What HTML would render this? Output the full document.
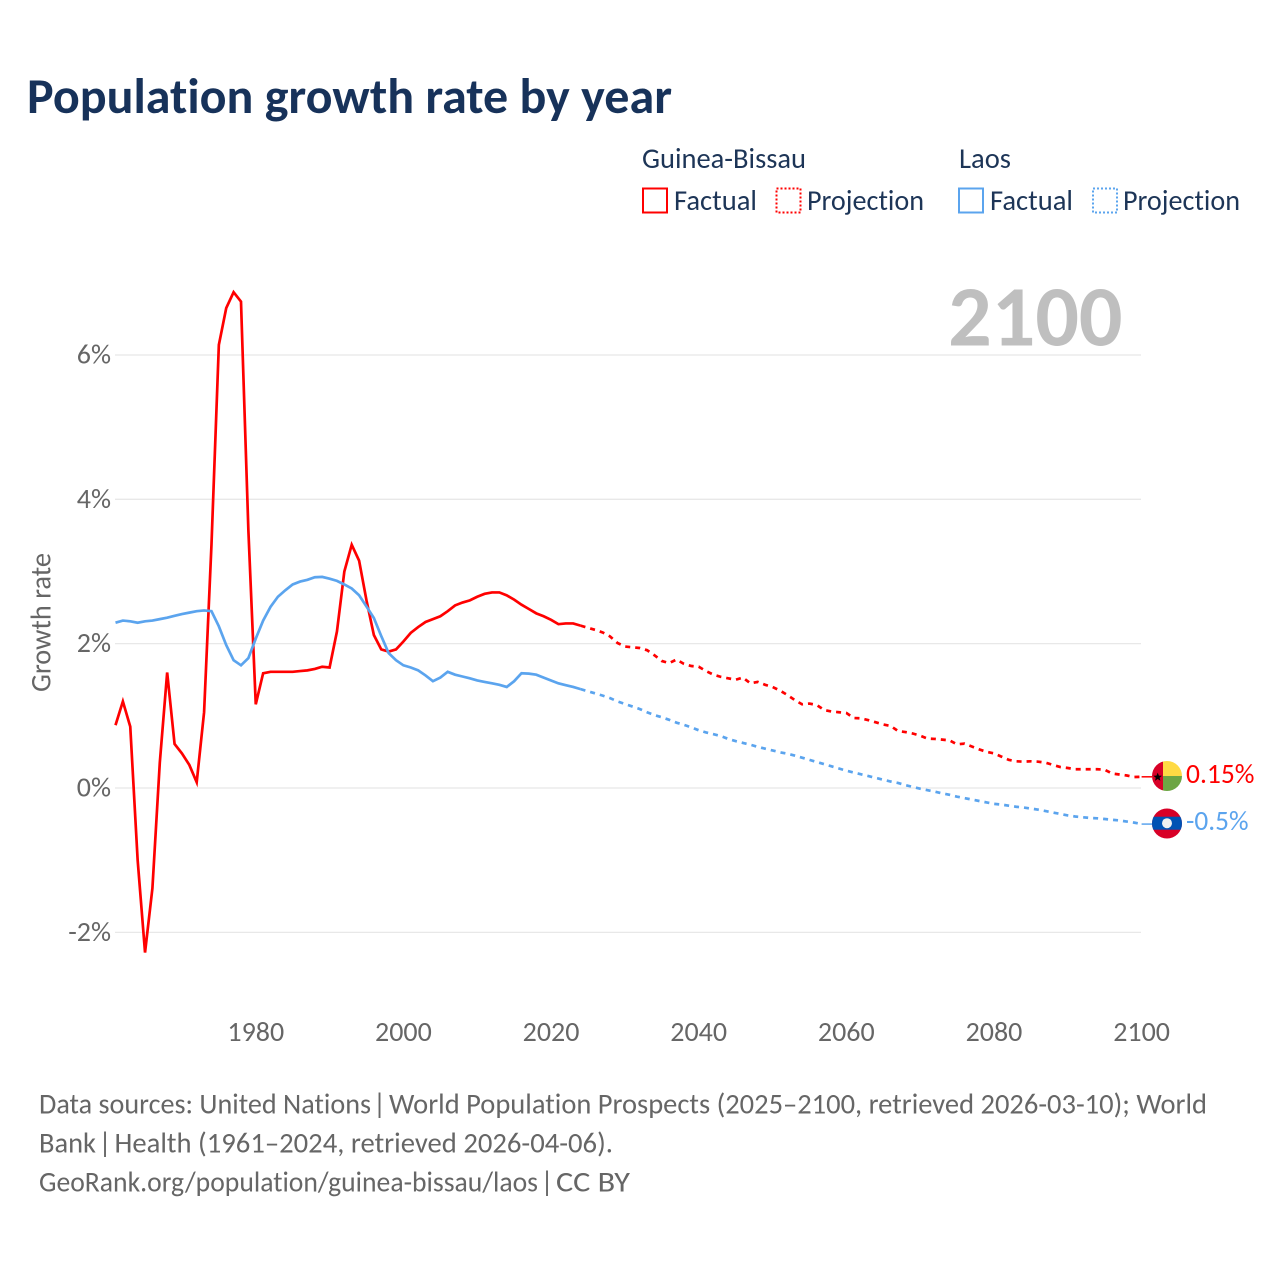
<!DOCTYPE html>
<html lang="en">
<head>
<meta charset="utf-8">
<title>Population growth rate by year</title>
<style>
html,body{margin:0;padding:0;background:#fff;}
svg{display:block;}
text{font-family:"Carlito","Lato","Liberation Sans",sans-serif;font-variant-ligatures:none;}
</style>
</head>
<body>
<svg id="chart" xmlns="http://www.w3.org/2000/svg" width="1280" height="1280" viewBox="0 0 1280 1280">
  <defs>
    <clipPath id="clip-gnb"><circle cx="1167" cy="776" r="15"/></clipPath>
    <clipPath id="clip-laos"><circle cx="1167" cy="823.5" r="15"/></clipPath>
  </defs>
  <rect width="1280" height="1280" fill="#ffffff"/>
  <text x="27" y="113" font-size="50" font-weight="700" fill="#17325a" textLength="645" lengthAdjust="spacingAndGlyphs">Population growth rate by year</text>

  <g fill="#1d3557" font-size="28.4">
    <text x="642" y="168" textLength="164" lengthAdjust="spacingAndGlyphs">Guinea-Bissau</text>
    <text x="959" y="168" textLength="52" lengthAdjust="spacingAndGlyphs">Laos</text>
    <rect x="643" y="188.5" width="24" height="24" fill="none" stroke="#ff0000" stroke-width="2"/>
    <text x="674" y="210" textLength="83" lengthAdjust="spacingAndGlyphs">Factual</text>
    <rect x="776.5" y="188.5" width="24" height="24" fill="none" stroke="#ff0000" stroke-width="2" stroke-dasharray="2 2"/>
    <text x="807" y="210" textLength="117" lengthAdjust="spacingAndGlyphs">Projection</text>
    <rect x="959" y="188.5" width="24" height="24" fill="none" stroke="#5ba4ee" stroke-width="2"/>
    <text x="990" y="210" textLength="83" lengthAdjust="spacingAndGlyphs">Factual</text>
    <rect x="1093" y="188.5" width="24" height="24" fill="none" stroke="#5ba4ee" stroke-width="2" stroke-dasharray="2 2"/>
    <text x="1123" y="210" textLength="117" lengthAdjust="spacingAndGlyphs">Projection</text>
  </g>

  <g id="grid"></g>
  <g id="y-ticks"></g>
  <g id="x-ticks"></g>
  <text transform="translate(50.5,622.5) rotate(-90)" text-anchor="middle" font-size="28.4" fill="#666666" textLength="139" lengthAdjust="spacingAndGlyphs">Growth rate</text>
  <text x="1122.5" y="345.5" text-anchor="end" font-size="86" font-weight="700" fill="#bfbfbf">2100</text>

  <g id="series"></g>

  <g clip-path="url(#clip-gnb)">
    <rect x="1152" y="761" width="11" height="30" fill="#d80027"/>
    <rect x="1163" y="761" width="19" height="15" fill="#ffda44"/>
    <rect x="1163" y="776" width="19" height="15" fill="#6da544"/>
    <polygon points="1157.7,772.6 1158.9,775.6 1162,775.7 1159.6,777.7 1160.4,780.7 1157.7,779 1155,780.7 1155.8,777.7 1153.4,775.7 1156.5,775.6" fill="#000000"/>
  </g>
  <g clip-path="url(#clip-laos)">
    <rect x="1152" y="808" width="30" height="31" fill="#d80027"/>
    <rect x="1152" y="816.7" width="30" height="13" fill="#0052b4"/>
    <circle cx="1167" cy="823.2" r="5" fill="#f0f0f0"/>
  </g>
  <text x="1186" y="783" font-size="28" fill="#ff0000" textLength="68.5" lengthAdjust="spacingAndGlyphs">0.15%</text>
  <text x="1186" y="830" font-size="28" fill="#5ba4ee" textLength="62.5" lengthAdjust="spacingAndGlyphs">-0.5%</text>

  <g font-size="28.3" fill="#666666">
    <text x="39" y="1113.5" textLength="332" lengthAdjust="spacingAndGlyphs">Data sources: United Nations</text>
    <text x="379.5" y="1113.5" text-anchor="middle">|</text>
    <text x="389" y="1113.5" textLength="818" lengthAdjust="spacingAndGlyphs">World Population Prospects (2025–2100, retrieved 2026-03-10); World</text>
    <text x="39" y="1152.5" textLength="57" lengthAdjust="spacingAndGlyphs">Bank</text>
    <text x="105" y="1152.5" text-anchor="middle">|</text>
    <text x="114.5" y="1152.5" textLength="498.5" lengthAdjust="spacingAndGlyphs">Health (1961–2024, retrieved 2026-04-06).</text>
    <text x="39" y="1191.5" textLength="499" lengthAdjust="spacingAndGlyphs">GeoRank.org/population/guinea-bissau/laos</text>
    <text x="547" y="1191.5" text-anchor="middle">|</text>
    <text x="556" y="1191.5" textLength="74" lengthAdjust="spacingAndGlyphs">CC BY</text>
  </g>
</svg>
<script>
const factualYears = [1961,1962,1963,1964,1965,1966,1967,1968,1969,1970,1971,1972,1973,1974,1975,1976,1977,1978,1979,1980,1981,1982,1983,1984,1985,1986,1987,1988,1989,1990,1991,1992,1993,1994,1995,1996,1997,1998,1999,2000,2001,2002,2003,2004,2005,2006,2007,2008,2009,2010,2011,2012,2013,2014,2015,2016,2017,2018,2019,2020,2021,2022,2023,2024];
const projectionYears = [2025,2026,2027,2028,2029,2030,2031,2032,2033,2034,2035,2036,2037,2038,2039,2040,2041,2042,2043,2044,2045,2046,2047,2048,2049,2050,2051,2052,2053,2054,2055,2056,2057,2058,2059,2060,2061,2062,2063,2064,2065,2066,2067,2068,2069,2070,2071,2072,2073,2074,2075,2076,2077,2078,2079,2080,2081,2082,2083,2084,2085,2086,2087,2088,2089,2090,2091,2092,2093,2094,2095,2096,2097,2098,2099,2100];
const guineaBissauFactual = [0.87,1.20,0.85,-1.0,-2.28,-1.39,0.35,1.60,0.61,0.48,0.32,0.08,1.05,3.37,6.14,6.65,6.87,6.74,3.57,1.16,1.59,1.61,1.61,1.61,1.61,1.62,1.63,1.65,1.68,1.67,2.17,3.0,3.37,3.15,2.6,2.12,1.92,1.89,1.92,2.03,2.15,2.23,2.30,2.34,2.38,2.45,2.53,2.57,2.60,2.65,2.69,2.71,2.71,2.67,2.61,2.54,2.48,2.42,2.38,2.33,2.27,2.28,2.28,2.25];
const guineaBissauProjection = [2.22,2.19,2.155,2.10,2.01,1.96,1.95,1.94,1.91,1.84,1.76,1.73,1.78,1.72,1.69,1.68,1.62,1.57,1.54,1.52,1.50,1.53,1.45,1.47,1.43,1.40,1.35,1.29,1.22,1.16,1.17,1.15,1.08,1.06,1.05,1.04,0.97,0.965,0.94,0.91,0.88,0.86,0.79,0.775,0.755,0.725,0.685,0.68,0.67,0.66,0.605,0.615,0.575,0.535,0.50,0.48,0.435,0.39,0.37,0.365,0.37,0.365,0.35,0.32,0.29,0.277,0.26,0.26,0.26,0.26,0.254,0.20,0.187,0.173,0.152,0.155];
const laosFactual = [2.29,2.32,2.31,2.29,2.31,2.32,2.34,2.36,2.385,2.41,2.43,2.45,2.46,2.45,2.24,1.98,1.77,1.70,1.80,2.07,2.32,2.51,2.65,2.74,2.82,2.86,2.885,2.92,2.925,2.90,2.87,2.82,2.765,2.67,2.515,2.355,2.105,1.87,1.77,1.70,1.67,1.63,1.56,1.48,1.53,1.61,1.57,1.545,1.52,1.49,1.47,1.45,1.43,1.40,1.48,1.59,1.585,1.57,1.53,1.49,1.45,1.425,1.40,1.37];
const laosProjection = [1.34,1.31,1.28,1.245,1.20,1.165,1.13,1.095,1.05,1.01,0.98,0.945,0.905,0.875,0.84,0.80,0.77,0.745,0.72,0.68,0.65,0.625,0.60,0.57,0.545,0.52,0.495,0.475,0.45,0.42,0.39,0.36,0.33,0.30,0.27,0.24,0.215,0.19,0.165,0.14,0.115,0.09,0.07,0.04,0.015,-0.01,-0.03,-0.05,-0.075,-0.095,-0.12,-0.14,-0.16,-0.18,-0.20,-0.22,-0.23,-0.245,-0.26,-0.27,-0.285,-0.30,-0.32,-0.34,-0.36,-0.38,-0.395,-0.405,-0.415,-0.42,-0.43,-0.44,-0.45,-0.465,-0.48,-0.5];
const yTickValues = [-2,0,2,4,6];
const yTickLabels = ["-2%","0%","2%","4%","6%"];
const xTickValues = [1980,2000,2020,2040,2060,2080,2100];
const xTickLabels = ["1980","2000","2020","2040","2060","2080","2100"];

const SVGNS = "http://www.w3.org/2000/svg";
const RED = "#ff0000";
const BLUE = "#5ba4ee";
function xScale(year){ return 115.5 + (year - 1961) * (1141.6 - 115.5) / (2100 - 1961); }
function yScale(v){ return 788 - v * 72.17; }
function mk(tag, attrs, parent){
  const el = document.createElementNS(SVGNS, tag);
  for (const k in attrs) el.setAttribute(k, attrs[k]);
  parent.appendChild(el);
  return el;
}
function pathFrom(years, values){
  return years.map(function(y,i){ return (i ? "L" : "M") + xScale(y).toFixed(2) + " " + yScale(values[i]).toFixed(2); }).join(" ");
}

const grid = document.getElementById("grid");
const yTicks = document.getElementById("y-ticks");
yTickValues.forEach(function(v,i){
  const line = mk("line", {x1:115, x2:1141, y1:yScale(v), y2:yScale(v), stroke:"#e8e8e8", "stroke-width":1.3}, grid);
  
  
  const t = mk("text", {x:111, y:yScale(v)+8.5, "text-anchor":"end", "font-size":28, fill:"#666666"}, yTicks);
  
  
  t.textContent = yTickLabels[i];
});
const xTicks = document.getElementById("x-ticks");
xTickValues.forEach(function(v,i){
  const t = mk("text", {x:xScale(v), y:1041, "text-anchor":"middle", "font-size":28, fill:"#666666"}, xTicks);
  
  
  t.textContent = xTickLabels[i];
});

const series = document.getElementById("series");
function drawLine(years, values, color, dashed, name){
  const p = mk("path", {d:pathFrom(years, values), fill:"none", stroke:color, "stroke-width":2.7}, series);
  if (dashed) p.setAttribute("stroke-dasharray", "5 5");
  
  
  return p;
}
const lastF = factualYears.length - 1;
drawLine(factualYears, guineaBissauFactual, RED, false, "line-guinea-bissau-factual");
drawLine([factualYears[lastF]].concat(projectionYears), [guineaBissauFactual[lastF]].concat(guineaBissauProjection), RED, true, "line-guinea-bissau-projection");
drawLine(factualYears, laosFactual, BLUE, false, "line-laos-factual");
drawLine([factualYears[lastF]].concat(projectionYears), [laosFactual[lastF]].concat(laosProjection), BLUE, true, "line-laos-projection");

function drawConnector(values, color, name){
  const y = yScale(values[values.length - 1]);
  const c = mk("line", {x1:1141.6, x2:1152, y1:y, y2:y, stroke:color, "stroke-width":1.5}, series);
  
  
}
drawConnector(guineaBissauProjection, RED, "connector-guinea-bissau");
drawConnector(laosProjection, BLUE, "connector-laos");
</script>
</body>
</html>
